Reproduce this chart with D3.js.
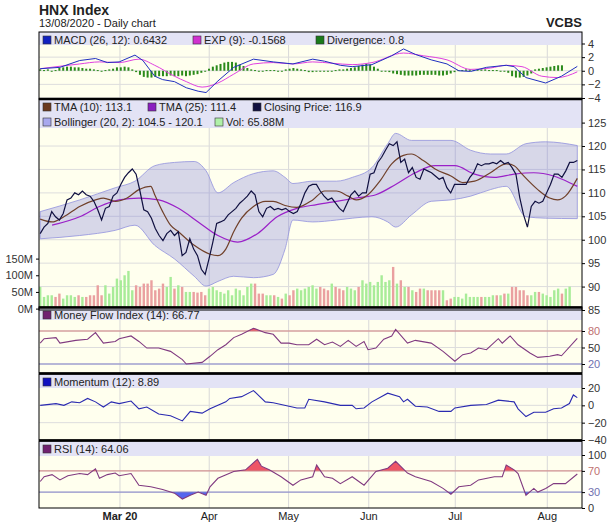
<!DOCTYPE html>
<html><head><meta charset="utf-8">
<script src="https://cdn.jsdelivr.net/npm/d3@7.9.0/dist/d3.min.js"></script>
<style>body{margin:0;background:#fff}svg{display:block;font-family:Arial,"Liberation Sans",sans-serif}</style>
</head><body><div id="chart"></div>
<script>
// ---- data (trading-day index 0..136, 12/02/2020 .. 13/08/2020)
const close = [101.3,102.7,103.5,106.0,104.9,104.2,105.6,108.5,108.9,110.0,109.6,110.4,109.6,109.3,108.2,106.4,104.2,106.7,107.1,109.3,110.0,111.8,113.3,114.3,115.1,114.0,110.4,106.4,106.0,104.6,102.4,100.9,99.8,101.3,102.0,100.9,101.7,96.6,97.3,100.2,98.0,96.6,93.7,92.6,95.9,99.5,103.5,103.8,104.2,105.3,106.0,106.7,107.8,108.5,109.3,110.4,109.6,106.0,104.9,106.7,107.1,106.4,106.7,106.4,106.7,106.0,105.6,106.0,107.8,110.0,111.4,111.8,111.8,110.4,109.3,108.5,108.9,107.8,106.7,106.0,107.8,109.6,110.4,109.3,110.0,110.0,114.0,114.3,116.5,117.6,119.1,120.5,120.1,120.9,116.5,117.2,114.3,115.4,113.3,112.9,115.1,114.7,114.3,113.6,112.9,113.3,111.1,110.0,111.8,111.8,111.8,111.8,113.3,114.3,116.2,115.8,116.2,116.2,116.5,116.2,116.9,116.2,116.5,115.4,114.0,109.0,105.3,102.7,107.1,108.2,107.8,108.2,110.0,111.8,114.0,114.0,113.3,114.7,116.5,116.5,116.9];
const volume = [65,35,40,40,35,45,30,40,40,35,40,35,35,40,40,70,40,70,45,65,90,85,100,113,55,70,65,75,75,85,55,60,75,65,95,60,70,65,50,50,50,48,50,40,60,65,55,50,45,55,40,60,55,40,65,75,75,45,45,40,40,40,35,30,45,40,55,60,55,60,65,70,60,65,60,55,75,65,60,55,65,60,55,65,85,75,80,70,80,100,80,85,125,75,85,65,65,55,50,60,60,55,55,55,55,55,25,30,35,35,30,45,35,35,35,35,35,35,40,40,40,45,45,65,65,55,55,40,40,50,50,45,40,35,55,60,45,60,66];
const tma10Idx = [0,3,6,10,14,16,19,22,25,28,29,31,33,35,39,43,45,47,49,51,54,57,59,62,65,69,72,75,78,80,83,86,89,92,94,97,100,104,107,110,114,118,120,122,126,129,131,133,136];
const tma10 = [104.4,103.8,104.9,107.1,108.5,108.9,108.2,108.9,110.7,111.4,109.6,106.0,103.1,101.7,98.8,96.9,96.6,98.0,101.7,104.6,107.1,108.2,108.2,107.3,106.9,108.5,110.4,110.4,109.3,108.5,109.6,112.5,116.2,118.0,118.3,116.9,115.1,113.6,112.2,112.5,114.3,116.2,115.8,114.0,110.7,108.9,108.5,109.3,113.1];
const tma25Idx = [3,10,15,20,25,30,35,40,45,50,55,60,65,70,75,80,85,90,95,100,105,110,115,120,125,130,135,136];
const tma25 = [103.1,104.9,107.1,108.5,108.9,108.5,106.7,103.8,100.9,99.5,101.3,104.9,106.7,107.5,108.2,108.9,109.6,111.8,114.3,115.8,115.8,114.0,113.3,114.0,114.3,113.6,111.8,111.4];
const bandIdx = [0,10,19,24,29,34,39,42,45,49,54,59,62,64,69,75,79,84,88,90,94,99,104,109,114,118,123,128,136];
const bandUpper = [106.0,108.5,111.1,112.5,115.8,116.5,116.7,114.7,110.0,112.2,114.1,114.7,113.3,112.0,112.5,112.5,113.3,115.4,120.5,122.7,121.2,121.2,121.2,119.1,118.3,118.3,120.5,120.9,120.1];
const bandLower = [100.2,100.9,102.0,103.1,98.8,95.9,92.2,90.1,91.1,92.2,91.9,92.6,98.0,104.2,103.8,104.2,104.6,104.9,103.8,102.7,105.3,108.2,108.5,109.3,110.7,111.4,104.9,104.6,104.5];
const macdIdx = [0,5,10,14,17,20,24,26,29,31,34,37,40,42,45,49,54,59,64,69,72,76,79,84,89,92,95,99,103,106,109,113,118,120,123,128,132,136];
const macd = [0.3,0.5,1.5,1.8,1.2,1.3,2.3,1.5,-0.8,-1.3,-1.6,-2.5,-3.0,-3.2,-1.5,0.5,1.7,1.3,1.0,1.7,1.4,0.8,0.6,0.9,2.2,3.2,2.4,1.6,1.0,0.0,-0.1,0.5,0.8,0.6,-1.0,-1.8,-0.8,0.64];
const expIdx = [0,10,15,20,25,29,34,37,41,45,49,54,59,64,69,74,79,84,92,97,103,109,114,118,122,127,131,136];
const expLine = [0.3,1.0,1.3,1.2,1.7,0.8,-0.8,-1.6,-2.4,-1.8,-0.5,1.0,1.2,1.0,1.3,1.1,0.9,1.2,2.6,2.2,1.6,0.2,0.4,0.8,0.6,-0.8,-1.0,-0.16];
const divergence = [0.2,0.1,0.2,0.0,0.1,0.4,0.5,0.6,0.6,0.5,0.5,0.4,0.3,0.3,0.2,0.1,-0.1,0.1,0.2,0.3,0.5,0.5,0.6,0.5,0.2,-0.2,-0.6,-0.9,-1.0,-1.0,-0.9,-0.8,-0.8,-0.8,-0.7,-0.8,-0.8,-0.7,-0.8,-0.7,-0.6,-0.5,-0.3,-0.1,0.3,0.6,0.8,1.0,1.2,1.3,1.3,1.2,0.9,0.7,0.4,0.2,0.1,0.0,-0.1,0.1,0.1,0.1,-0.1,0.0,0.2,0.3,0.4,0.3,0.2,0.1,-0.2,-0.2,-0.1,-0.1,-0.1,0.0,-0.1,0.1,0.2,0.2,0.3,0.4,0.5,0.7,0.9,1.0,0.9,0.6,0.3,0.0,-0.1,-0.2,-0.4,-0.5,-0.6,-0.7,-0.7,-0.7,-0.7,-0.6,-0.6,-0.6,-0.6,-0.6,-0.7,-0.7,-0.6,-0.4,-0.2,0.1,0.1,0.2,0.2,0.1,0.2,0.2,0.2,0.1,0.1,0.1,0.0,-0.1,-0.3,-0.8,-1.0,-1.0,-0.9,-0.7,-0.4,0.2,0.3,0.4,0.5,0.6,0.7,0.8,0.8];
const mfiIdx = [0,1,4,5,9,12,14,16,19,20,23,25,27,30,33,36,37,41,43,45,47,49,51,54,57,59,61,63,65,68,70,72,74,76,78,80,82,83,85,87,89,90,93,95,99,102,105,107,109,111,113,116,117,119,121,124,126,129,131,132,136];
const mfi = [58,66,68,58,63,65,77,58,61,66,71,61,49,49,43,28,20,23,34,46,55,68,74,85,77,74,58,58,55,55,65,55,60,52,63,52,61,46,49,65,71,83,58,63,58,43,25,37,40,49,46,66,58,71,55,40,32,34,37,35,66.77];
const momIdx = [0,4,6,8,10,12,14,16,18,20,23,25,27,30,33,36,38,41,43,47,48,51,54,57,59,63,65,67,68,72,76,79,80,82,84,88,91,92,93,95,98,101,104,105,109,113,116,120,121,123,125,128,130,132,134,135,136];
const momentum = [0,2,0,4,3,8,4,-2,4,2,5,-4,-2,-10,-12,-18,-7,-9,-4,4,8,10,17,4,3,-1,-3,-3,7,4,0,0,-4,-3,4,14,10,4,7,-1,-2,-7,-7,-3,0,1,6,4,-4,-13,-8,-8,-4,-3,2,12,8.89];
const rsiIdx = [0,1,3,5,7,10,12,14,15,17,19,20,23,25,28,31,34,36,38,40,42,43,45,49,52,55,56,58,61,64,66,69,70,72,74,76,79,82,85,88,90,93,95,99,102,104,106,109,111,115,117,118,120,121,123,125,126,128,130,133,136];
const rsi = [50,59,63,53,61,65,63,74,56,63,66,61,65,43,40,35,28,17,24,30,24,40,56,69,72,92,79,72,59,43,53,59,81,59,56,46,59,43,69,75,88,66,59,50,37,26,40,43,53,59,59,81,72,65,24,37,30,37,46,46,64.06];
const monthIdx = [20.2,42.8,62.9,83.2,105.1,128.4];
const monthLabels = ["Mar 20","Apr","May","Jun","Jul","Aug"];

// ---- layout
const W = 609, H = 531, L = 39, R = 582;
const svg = d3.select("#chart").append("svg").attr("width", W).attr("height", H);
const x = d3.scaleLinear().domain([0, 136]).range([40.2, 577.3]);
const xc = i => x(i * 136 / (close.length - 1));
const pts = (ix, v) => ix.map((d, i) => [d, v[i]]);

svg.append("text").attr("x", L).attr("y", 15).attr("font-size", 14).attr("font-weight", "bold").attr("fill", "#222").text("HNX Index");
svg.append("text").attr("x", L).attr("y", 27).attr("font-size", 11).attr("fill", "#222").text("13/08/2020 - Daily chart");
svg.append("text").attr("x", R).attr("y", 27).attr("text-anchor", "end").attr("font-size", 13).attr("font-weight", "bold").attr("fill", "#222").text("VCBS");

function panel(top, bottom, headH, y, ticks, legend) {
  svg.append("rect").attr("x", L).attr("y", top).attr("width", R - L).attr("height", bottom - top).attr("fill", "#ffffee");
  svg.append("rect").attr("x", L).attr("y", top).attr("width", R - L).attr("height", headH).attr("fill", "#e3e3f5");
  const g = svg.append("g");
  g.selectAll(".vg").data(monthIdx).join("line").attr("x1", d => x(d)).attr("x2", d => x(d))
    .attr("y1", top + headH).attr("y2", bottom).attr("stroke", "#d8d8d8");
  g.selectAll(".hg").data(ticks.filter(t => y(t) > top + headH && y(t) < bottom)).join("line")
    .attr("x1", L).attr("x2", R).attr("y1", d => y(d)).attr("y2", d => y(d)).attr("stroke", "#ddd");
  const ax = svg.append("g").attr("transform", `translate(${R},0)`)
    .call(d3.axisRight(y).tickValues(ticks).tickSize(3).tickFormat(d3.format("d")));
  ax.select(".domain").remove();
  ax.selectAll("text").attr("font-size", 11).attr("fill", "#333").attr("font-family", "Arial,Liberation Sans,sans-serif");
  legend.forEach((row, r) => {
    let cx = L + 4;
    row.forEach(([c, t, w]) => {
      svg.append("rect").attr("x", cx).attr("y", top + 4 + r * 15).attr("width", 8).attr("height", 8).attr("fill", c).attr("stroke", "#333").attr("stroke-width", 0.6);
      svg.append("text").attr("x", cx + 11).attr("y", top + 12 + r * 15).attr("font-size", 11).attr("fill", "#222").text(t);
      cx += w;
    });
  });
  return g;
}
function border(top, bottom) {
  svg.append("rect").attr("x", L).attr("y", top).attr("width", R - L).attr("height", bottom - top)
    .attr("fill", "none").attr("stroke", "#000").attr("stroke-width", 1);
}
const lineOf = y => d3.line().x(d => x(d[0])).y(d => y(d[1]));

// MACD
const yM = d3.scaleLinear().domain([-4, 4]).range([98, 43.5]);
const gM = panel(32, 99, 13, yM, [-4, -2, 0, 2, 4], [[["#1020c0", "MACD (26, 12): 0.6432", 150], ["#d030d0", "EXP (9): -0.1568", 123], ["#1a7a1a", "Divergence: 0.8", 120]]]);
gM.selectAll(".dv").data(divergence).join("rect")
  .attr("x", (d, i) => xc(i) - 1).attr("width", 2)
  .attr("y", d => Math.min(yM(d), yM(0))).attr("height", d => Math.max(1, Math.abs(yM(d) - yM(0)))).attr("fill", "#2a8a1a");
gM.append("path").datum(pts(expIdx, expLine)).attr("d", lineOf(yM).curve(d3.curveMonotoneX)).attr("fill", "none").attr("stroke", "#e040e0").attr("stroke-width", 1);
gM.append("path").datum(pts(macdIdx, macd)).attr("d", lineOf(yM)).attr("fill", "none").attr("stroke", "#2030c0").attr("stroke-width", 1);

// Main price panel
const yP = d3.scaleLinear().domain([85, 125]).range([310, 122.6]);
const yV = d3.scaleLinear().domain([0, 150]).range([308.6, 258.6]);
const gP = panel(99, 310, 29, yP, [85, 90, 95, 100, 105, 110, 115, 120, 125], [
  [["#6b3a1f", "TMA (10): 113.1", 105], ["#8a20c0", "TMA (25): 111.4", 105], ["#101040", "Closing Price: 116.9", 150]],
  [["#a8a8ee", "Bollinger (20, 2): 104.5 - 120.1", 172], ["#b0f0a8", "Vol: 65.88M", 100]]]);
gP.selectAll(".vol").data(volume).join("rect")
  .attr("x", (d, i) => xc(i) - 1.2).attr("width", 2.4).attr("y", d => yV(d)).attr("height", d => yV(0) - yV(d))
  .attr("fill", (d, i) => i > 0 && close[i] < close[i - 1] ? "#eaa0a0" : "#a8ec98");
const band = bandIdx.map((d, i) => [d, bandUpper[i], bandLower[i]]);
gP.append("path").datum(band).attr("d", d3.area().x(d => x(d[0])).y0(d => yP(d[2])).y1(d => yP(d[1])).curve(d3.curveMonotoneX))
  .attr("fill", "rgba(110,110,220,0.28)").attr("stroke", "#9090dd").attr("stroke-width", 0.8);
gP.append("path").datum(pts(tma25Idx, tma25)).attr("d", lineOf(yP).curve(d3.curveMonotoneX)).attr("fill", "none").attr("stroke", "#9a20c8").attr("stroke-width", 1.2);
gP.append("path").datum(pts(tma10Idx, tma10)).attr("d", lineOf(yP).curve(d3.curveMonotoneX)).attr("fill", "none").attr("stroke", "#70402a").attr("stroke-width", 1.2);
gP.append("path").datum(close).attr("d", d3.line().x((d, i) => xc(i)).y(d => yP(d))).attr("fill", "none").attr("stroke", "#101040").attr("stroke-width", 1.2);
const va = svg.append("g").attr("transform", `translate(${L},0)`)
  .call(d3.axisLeft(yV).tickValues([0, 50, 100, 150]).tickSize(3).tickFormat(d => d + "M"));
va.select(".domain").remove();
va.selectAll("text").attr("font-size", 11).attr("fill", "#333").attr("font-family", "Arial,Liberation Sans,sans-serif");

// oscillator panels with overbought/oversold fills
function osc(top, bottom, headH, y, ticks, legend, ix, v, color, hi, lo) {
  const g = panel(top, bottom, headH, y, ticks, legend);
  const data = pts(ix, v);
  if (hi != null) {
    const id = "c" + top;
    const clip = g.append("clipPath").attr("id", id + "a");
    clip.append("rect").attr("x", L).attr("y", top).attr("width", R - L).attr("height", y(hi) - top);
    const clip2 = g.append("clipPath").attr("id", id + "b");
    clip2.append("rect").attr("x", L).attr("y", y(lo)).attr("width", R - L).attr("height", bottom - y(lo));
    g.append("path").datum(data).attr("clip-path", `url(#${id}a)`).attr("fill", "#ee5566")
      .attr("d", d3.area().x(d => x(d[0])).y0(y(hi)).y1(d => y(d[1])));
    g.append("path").datum(data).attr("clip-path", `url(#${id}b)`).attr("fill", "#5566ee")
      .attr("d", d3.area().x(d => x(d[0])).y0(y(lo)).y1(d => y(d[1])));
    g.append("line").attr("x1", L).attr("x2", R).attr("y1", y(hi)).attr("y2", y(hi)).attr("stroke", "#d08080");
    g.append("line").attr("x1", L).attr("x2", R).attr("y1", y(lo)).attr("y2", y(lo)).attr("stroke", "#8080c8");
  }
  g.append("path").datum(data).attr("d", lineOf(y)).attr("fill", "none").attr("stroke", color).attr("stroke-width", 1.1);
  return g;
}
const yMF = d3.scaleLinear().domain([20, 80]).range([364, 331]);
osc(307, 373, 13, yMF, [20, 50, 80], [[["#702070", "Money Flow Index (14): 66.77", 200]]], mfiIdx, mfi, "#803a80", 80, 20);
const yMo = d3.scaleLinear().domain([-40, 20]).range([440, 388]);
osc(374, 440, 14, yMo, [-40, -20, 0, 20], [[["#1010c0", "Momentum (12): 8.89", 200]]], momIdx, momentum, "#2a2ab0");
const yR = d3.scaleLinear().domain([0, 100]).range([508, 455]);
osc(441, 508, 15, yR, [0, 30, 70, 100], [[["#702070", "RSI (14): 64.06", 200]]], rsiIdx, rsi, "#803a80", 70, 30);

// colour the 80/20, 70/30 labels
svg.selectAll("g.tick text").filter(function (d) { return this.textContent === "80" || this.textContent === "70"; }).attr("fill", "#c07070");
svg.selectAll("g.tick text").filter(function (d) { return this.textContent === "20" && +d === 20 && this.getBoundingClientRect().top > 350 && this.getBoundingClientRect().top < 375; }).attr("fill", "#7070b0");
svg.selectAll("g.tick text").filter(function () { return this.textContent === "30"; }).attr("fill", "#7070b0");

[[32, 99], [99, 310], [307, 373], [374, 440], [441, 508]].forEach(([a, b]) => border(a, b));
[99, 307.5, 373.5, 440.5].forEach(yy => svg.append("line").attr("x1", L).attr("x2", R).attr("y1", yy).attr("y2", yy).attr("stroke", "#000").attr("stroke-width", 2.5));

// x axis labels
svg.selectAll(".ml").data(monthIdx).join("text").attr("x", d => x(d)).attr("y", 520).attr("text-anchor", "middle")
  .attr("font-size", 11).attr("fill", "#222").attr("font-weight", (d, i) => i === 0 ? "bold" : "normal")
  .text((d, i) => monthLabels[i]);
</script></body></html>
